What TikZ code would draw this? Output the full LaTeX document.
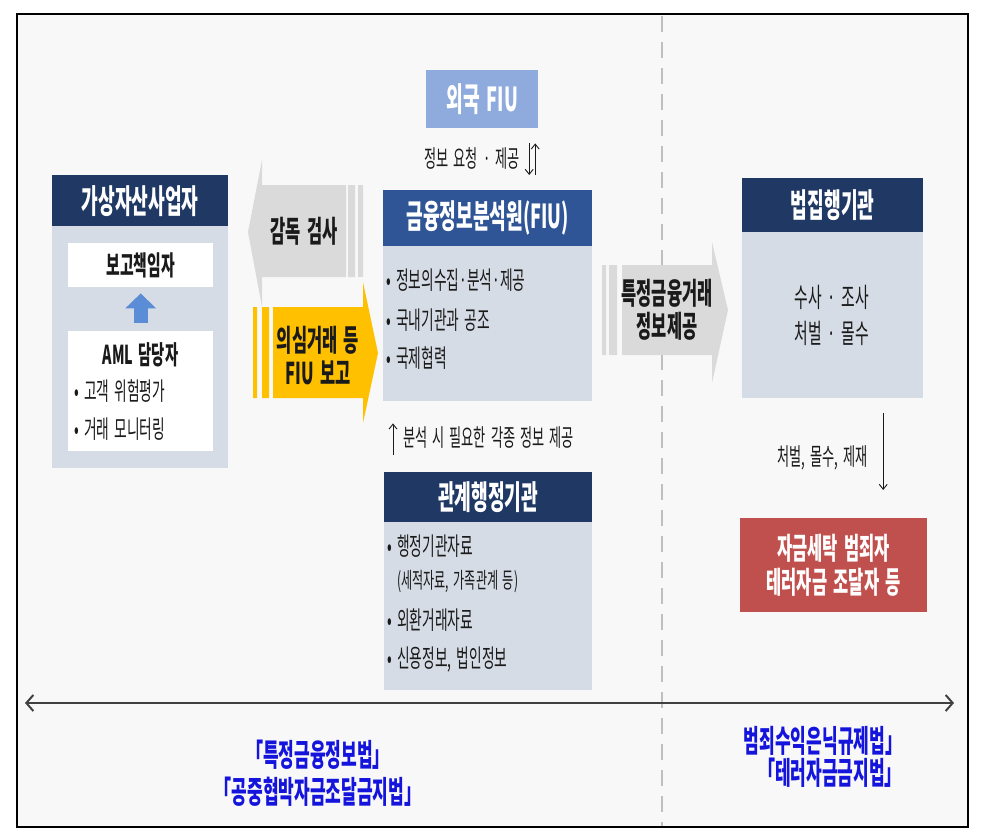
\documentclass[tikz,border=0pt]{standalone}
\usepackage{fontspec}
\setmainfont[FakeStretch=0.55,WordSpace=1.7]{Noto Sans CJK KR}
\usetikzlibrary{arrows.meta}
\definecolor{navy}{HTML}{1F3864}
\definecolor{fiublue}{HTML}{2F5597}
\definecolor{steel}{HTML}{D6DCE5}
\definecolor{skyblue}{HTML}{8FAADC}
\definecolor{arrowblue}{HTML}{5B8CD6}
\definecolor{arrowgray}{HTML}{DADADA}
\definecolor{amber}{HTML}{FFC000}
\definecolor{brick}{HTML}{C0504D}
\definecolor{lawblue}{HTML}{1414DC}
\definecolor{paper}{HTML}{F8F8F8}
\definecolor{ink}{HTML}{1A1A1A}
\newcommand\fsz[2]{\fontsize{#1pt}{#2pt}\selectfont}
\tikzset{
  ttl/.style={anchor=north west, inner sep=0pt, text=white, font=\fsz{33}{35}\bfseries},
  panel/.style={anchor=north west, inner sep=0pt, fill=steel},
  whitebox/.style={anchor=north west, inner sep=0pt, fill=white, text=ink},
  item/.style={anchor=west, inner sep=0pt, font=\fsz{25}{27}, text=ink},
  note/.style={inner sep=0pt, font=\fsz{24}{26}, text=ink},
  link/.style={draw=ink, line width=0.9pt, -{Straight Barb[length=5pt,width=8pt]}},
  band/.style={inner sep=0pt, align=center, font=\fsz{30}{33}\bfseries, text=ink},
  lawtxt/.style={inner sep=0pt, font=\fsz{31}{33}\bfseries, text=lawblue}
}

\begin{document}
\begin{tikzpicture}[x=1pt,y=-1pt]
  \useasboundingbox (0,0) rectangle (986,838);
  \fill[white] (0,0) rectangle (986,838);
  \fill[paper] (17,14) rectangle (968,827);
  \draw[black, line width=1.4pt] (17,14) rectangle (968,827);

  % divider and axis
  \draw[black!25, line width=1.6pt, dash pattern=on 16pt off 10pt] (662,16) -- (662,826);
  \coordinate (axl) at (25,703);
  \coordinate (axr) at (954,703);
  \draw[black!75, line width=2pt, {Straight Barb[length=7pt,width=16pt]}-{Straight Barb[length=7pt,width=16pt]}] (axl) -- (axr);

  % virtual asset service provider
  \node[panel, minimum width=176pt, minimum height=293pt] (vasp) at (52,175) {};
  \node[ttl, fill=navy, minimum width=176pt, minimum height=51pt] (vasph) at (52,175) {가상자산사업자};
  \node[whitebox, minimum width=145pt, minimum height=44pt, font=\fsz{27}{29}\bfseries] (officer) at (68,243) {보고책임자};
  \node[whitebox, minimum width=145pt, minimum height=120pt] (aml) at (68,331) {};
  \node[inner sep=0pt, font=\fsz{26}{28}\bfseries, text=ink] (amlt) at (140.5,355) {AML 담당자};
  \node[item] (aml1) at (74,391) {• 고객 위험평가};
  \node[item] (aml2) at (74,429) {• 거래 모니터링};
  \draw[arrowblue, line width=14pt, -{Triangle[length=15pt,width=30pt]}, shorten <=8pt, shorten >=6pt] (aml.north) -- (officer.south);

  % band arrows
  \fill[arrowgray] (346,185) -- (262,185) -- (262,160) -- (248,232) -- (262,307) -- (262,277) -- (346,277) -- cycle;
  \fill[arrowgray] (348,185) rectangle (355,277) (358,185) rectangle (363,277);
  \node[band] (insp) at (304,231) {감독 검사};

  \fill[amber] (273,307) -- (363,307) -- (363,282) -- (378,353) -- (363,423) -- (363,398) -- (273,398) -- cycle;
  \fill[amber] (253,307) rectangle (257,398) (262,307) rectangle (269,398);
  \node[band] (report) at (318,356) {의심거래 등\\FIU 보고};

  \fill[arrowgray] (622,265) -- (712,265) -- (712,242) -- (728,310) -- (712,383) -- (712,355) -- (622,355) -- cycle;
  \fill[arrowgray] (602,265) rectangle (606,355) (609,265) rectangle (617,355);
  \node[band] (prov) at (667,310) {특정금융거래\\정보제공};

  % FIU
  \node[anchor=north west, inner sep=0pt, fill=skyblue, text=white, font=\fsz{33}{35}\bfseries, minimum width=112pt, minimum height=58pt] (forfiu) at (426,70) {외국 FIU};
  \node[panel, minimum width=209pt, minimum height=211pt] (fiu) at (383,190) {};
  \node[ttl, fill=fiublue, minimum width=209pt, minimum height=56pt] (fiuh) at (383,190) {금융정보분석원(FIU)};
  \node[item] (fiu1) at (386,280) {• 정보의수집·분석·제공};
  \node[item] (fiu2) at (386,320) {• 국내기관과 공조};
  \node[item] (fiu3) at (386,358) {• 국제협력};
  \draw[link, shorten <=15pt, shorten >=15pt] ([xshift=47pt]forfiu.south) -- ([xshift=47pt]forfiu.south |- fiuh.north);
  \draw[link, shorten <=15pt, shorten >=15pt] ([xshift=53pt]forfiu.south |- fiuh.north) -- ([xshift=53pt]forfiu.south);
  \node[note, anchor=east] (req) at (520,158) {정보 요청 · 제공};

  % administrative agencies
  \node[panel, minimum width=208pt, minimum height=218pt] (admin) at (384,472) {};
  \node[ttl, fill=navy, minimum width=208pt, minimum height=50pt] (adminh) at (384,472) {관계행정기관};
  \node[item] (adm1) at (387,546) {• 행정기관자료};
  \node[item, font=\fsz{22}{24}] (adm1b) at (397,582) {(세적자료, 가족관계 등)};
  \node[item] (adm2) at (387,620) {• 외환거래자료};
  \node[item] (adm3) at (387,660) {• 신용정보, 법인정보};
  \draw[link, shorten <=17pt, shorten >=22pt] ([xshift=9pt]admin.north west) -- ([xshift=9pt]admin.north west |- fiu.south);
  \node[note, anchor=west] (need) at (403,438) {분석 시 필요한 각종 정보 제공};

  % law enforcement
  \node[panel, minimum width=181pt, minimum height=220pt] (enf) at (742,178) {};
  \node[ttl, fill=navy, minimum width=181pt, minimum height=54pt] (enfh) at (742,178) {법집행기관};
  \node[note, align=center, font=\fsz{27}{36}] (enft) at (832,315) {수사 · 조사\\처벌 · 몰수};
  \node[anchor=north west, inner sep=0pt, fill=brick, text=white, align=center, font=\fsz{30}{34}\bfseries, minimum width=187pt, minimum height=94pt] (crim) at (740,518) {자금세탁 범죄자\\테러자금 조달자 등};
  \draw[link, shorten <=15pt, shorten >=28pt] ([xshift=50.5pt]enf.south) -- ([xshift=50.5pt]enf.south |- crim.north);
  \node[note, anchor=east] (pun) at (868,458) {처벌, 몰수, 제재};

  % laws
  \node[lawtxt] (lawl1) at (318,755) {「특정금융정보법」};
  \node[lawtxt] (lawl2) at (318,792) {「공중협박자금조달금지법」};
  \node[lawtxt] (lawr1) at (823,741) {범죄수익은닉규제법」};
  \node[lawtxt] (lawr2) at (830,773) {「테러자금금지법」};
\end{tikzpicture}
\end{document}
